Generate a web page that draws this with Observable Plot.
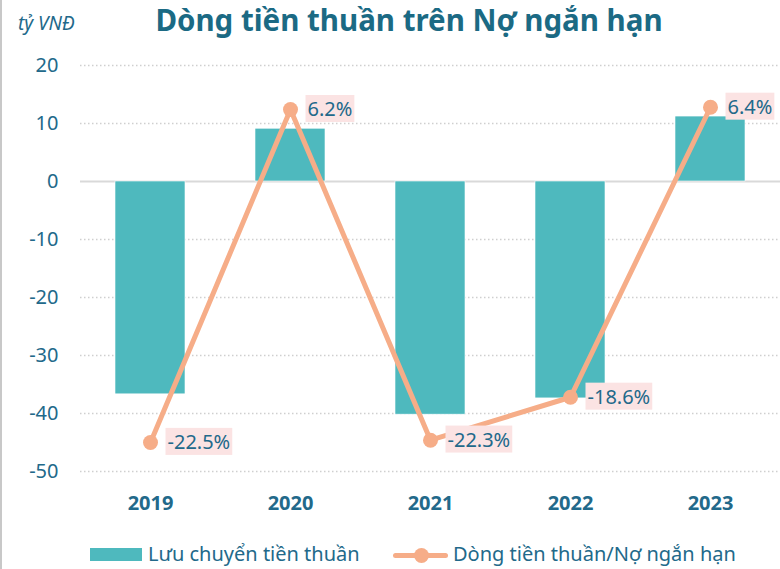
<!DOCTYPE html>
<html><head><meta charset="utf-8">
<script src="https://cdn.jsdelivr.net/npm/d3@7"></script>
<script src="https://cdn.jsdelivr.net/npm/@observablehq/plot@0.6"></script>
<style>
body{margin:0;background:#fff;font-family:"Segoe UI","Noto Sans","Open Sans",sans-serif;}
#wrap{position:relative;width:780px;height:569px;overflow:hidden;background:#fff;}
#border{position:absolute;left:0;top:0;width:2px;height:569px;background:#c8c8c8;}
#title{position:absolute;left:0;top:2px;width:780px;box-sizing:border-box;padding-left:38px;text-align:center;font-size:29.5px;line-height:36px;font-weight:bold;color:#1B6A84;white-space:nowrap;}
#unit{position:absolute;left:18px;top:10px;font-size:19px;font-style:italic;color:#22698A;}
#chart{position:absolute;left:0;top:45px;}
.leg{position:absolute;font-size:20px;color:#22698A;white-space:nowrap;line-height:24px;}
#sw1{position:absolute;left:90px;top:548px;width:52px;height:13px;background:#4EB9BE;}
#sw2{position:absolute;left:393px;top:553px;width:55px;height:5px;background:#F6AD88;border-radius:3px;}
#sw2dot{position:absolute;left:414px;top:548px;width:15px;height:15px;border-radius:50%;background:#F6AD88;}
</style></head><body>
<div id="wrap">
 <div id="border"></div>
 <div id="title">Dòng tiền thuần trên Nợ ngắn hạn</div>
 <div id="unit">tỷ VNĐ</div>
 <div id="chart"></div>
 <div id="sw1"></div>
 <div class="leg" style="left:148px;top:542px;">Lưu chuyển tiền thuần</div>
 <div id="sw2"></div><div id="sw2dot"></div>
 <div class="leg" style="left:453px;top:542px;">Dòng tiền thuần/Nợ ngắn hạn</div>
</div>
<script>
const years = ["2019", "2020", "2021", "2022", "2023"];
const cashFlow = [-36.7, 9.1, -40.2, -37.4, 11.2];
const ratioPct = [-22.5, 6.2, -22.3, -18.6, 6.4];
const yTicks = [-50, -40, -30, -20, -10, 0, 10, 20];
const leftDomain = [-50, 20];
const rightDomain = [-25, 10];

const toLeft = d3.scaleLinear().domain(rightDomain).range(leftDomain);
const data = years.map((y, i) => ({
  year: y, cf: cashFlow[i], pct: ratioPct[i], pctY: toLeft(ratioPct[i]),
  label: ratioPct[i].toFixed(1) + "%"
}));

const textColor = "#22698A";
const font = '"Segoe UI","Noto Sans","Open Sans",sans-serif';

const plot = Plot.plot({
  width: 780, height: 480,
  marginLeft: 80, marginRight: 0, marginTop: 20, marginBottom: 54,
  style: {fontFamily: font, background: "transparent", overflow: "visible"},
  x: {type: "band", domain: years, paddingInner: 0.5, paddingOuter: 0.25, align: 0.5},
  y: {domain: leftDomain},
  marks: [
    Plot.ruleY(yTicks.filter(t => t !== 0), {stroke: "#cfcfcf", strokeWidth: 1.5, strokeDasharray: "1.5 2.5"}),
    Plot.ruleY([0], {stroke: "#d9d9d9", strokeWidth: 2}),
    Plot.axisY(yTicks, {tickSize: 0, tickPadding: 22, fontSize: 20, color: textColor, label: null, tickFormat: d => String(d)}),
    Plot.axisX({tickSize: 0, tickPadding: 24, fontSize: 20, fontWeight: "bold", color: textColor, label: null}),
    Plot.barY(data, {x: "year", y: "cf", fill: "#4EB9BE", stroke: "#ffffff", strokeWidth: 0.6}),
    Plot.line(data, {x: "year", y: "pctY", stroke: "#F6AD88", strokeWidth: 5}),
    Plot.dot(data, {x: "year", y: "pctY", r: 7.5, fill: "#F6AD88"}),
    Plot.text(data, {x: "year", y: "pctY", text: "label", dx: 17, textAnchor: "start", fontSize: 20, fill: textColor})
  ]
});
document.getElementById("chart").appendChild(plot);

// pink background boxes behind the percentage labels
plot.querySelectorAll('g[aria-label="text"]').forEach(g => {
  g.querySelectorAll("text").forEach(t => {
    const b = t.getBBox();
    const r = document.createElementNS("http://www.w3.org/2000/svg", "rect");
    r.setAttribute("x", b.x - 2);
    r.setAttribute("y", b.y);
    r.setAttribute("width", b.width + 4);
    r.setAttribute("height", b.height);
    r.setAttribute("fill", "#FBE3E3");
    const tr = t.getAttribute("transform");
    if (tr) r.setAttribute("transform", tr);
    t.parentNode.insertBefore(r, t);
  });
});
</script>
</body></html>
